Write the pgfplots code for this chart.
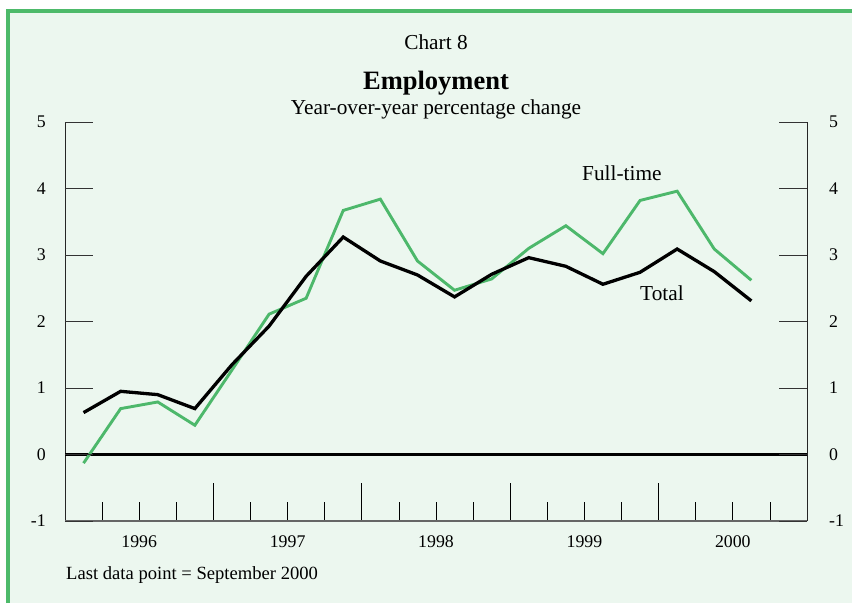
\documentclass[border=0pt]{standalone}
\usepackage{pgfplots}
\pgfplotsset{compat=1.18}
\usepackage{fontspec}
\setmainfont{Liberation Serif}

\definecolor{bggreen}{HTML}{ECF7EF}
\definecolor{framegreen}{HTML}{4DBA6A}
\definecolor{linegreen}{HTML}{4DB86B}

% quarterly data, x = quarter index (1996Q1 = 0.5)
\pgfplotstableread{
q    total  full
0.5  0.63  -0.13
1.5  0.95   0.69
2.5  0.90   0.79
3.5  0.69   0.44
4.5  1.35   1.27
5.5  1.93   2.11
6.5  2.68   2.35
7.5  3.27   3.67
8.5  2.91   3.84
9.5  2.70   2.91
10.5 2.37   2.47
11.5 2.71   2.64
12.5 2.96   3.10
13.5 2.83   3.44
14.5 2.56   3.02
15.5 2.74   3.82
16.5 3.09   3.96
17.5 2.75   3.09
18.5 2.31   2.62
}\emp

\begin{document}
\begin{tikzpicture}[x=1pt,y=1pt]
  \useasboundingbox (0,0) rectangle (852,603);
  \fill[white] (0,0) rectangle (852,603);
  \fill[bggreen] (6,0) rectangle (852,594);
  \draw[framegreen, line width=4pt] (8,0) -- (8,592) -- (852,592);

  \node[anchor=base, font=\fontsize{21.3}{24}\selectfont] at (436,553) {Chart 8};
  \node[anchor=base, font=\fontsize{26.5}{30}\selectfont\bfseries] at (436,513) {Employment};
  \node[anchor=base, font=\fontsize{21.3}{24}\selectfont] at (436,488) {Year-over-year percentage change};
  \node[anchor=base west, inner sep=0pt, font=\fontsize{18.6}{21}\selectfont] at (66,24) {Last data point = September 2000};

  % main axis: data and x ticks
  \begin{axis}[
      at={(65pt,82pt)}, anchor=south west,
      scale only axis, width=742pt, height=399pt,
      xmin=0, xmax=20, ymin=-1, ymax=5,
      axis line style={draw=none},
      tick align=inside,
      xtick={0,4,8,12,16,20},
      x tick label as interval,
      xticklabels={1996,1997,1998,1999,2000},
      minor xtick={1,2,3,5,6,7,9,10,11,13,14,15,17,18,19},
      xtick pos=bottom,
      major tick length=38pt, minor tick length=19pt,
      tick style={black, line width=0.8pt},
      ytick=\empty,
      xticklabel style={anchor=base, inner sep=0pt, yshift=-26pt,
        font=\fontsize{17.8}{20}\selectfont},
      clip=false,
    ]
    \draw[black!85, line width=1pt] (rel axis cs:0,0) -- (rel axis cs:0,1);
    \draw[black!85, line width=1pt] (rel axis cs:1,0) -- (rel axis cs:1,1);
    \draw[black!60, line width=1.5pt] (rel axis cs:0,0) -- (rel axis cs:1,0);
    \draw[black, line width=2.2pt] (axis cs:0,0) -- (axis cs:20,0);
    \addplot[linegreen, line width=2.9pt, line join=miter] table[x=q, y=full] {\emp};
    \addplot[black, line width=3.3pt, line join=miter] table[x=q, y=total] {\emp};
    \node[font=\fontsize{21.3}{24}\selectfont] at (axis cs:15.01,4.23) {Full-time};
    \node[font=\fontsize{21.3}{24}\selectfont] at (axis cs:16.09,2.42) {Total};
  \end{axis}

  % left y ticks and labels
  \begin{axis}[
      at={(65pt,82pt)}, anchor=south west,
      scale only axis, width=742pt, height=399pt,
      xmin=0, xmax=20, ymin=-1, ymax=5,
      axis line style={draw=none},
      tick align=inside, major tick length=28pt,
      tick style={black!80, line width=0.8pt},
      xtick=\empty,
      ytick={-1,0,1,2,3,4,5},
      yticklabels={-1,0,1,2,3,4,5},
      ytick pos=left,
      yticklabel style={anchor=east, inner sep=0pt, xshift=-19pt,
        font=\fontsize{17.8}{20}\selectfont},
    ]
  \end{axis}

  % right y ticks and labels
  \begin{axis}[
      at={(65pt,82pt)}, anchor=south west,
      scale only axis, width=742pt, height=399pt,
      xmin=0, xmax=20, ymin=-1, ymax=5,
      axis line style={draw=none},
      tick align=inside, major tick length=28pt,
      tick style={black!80, line width=0.8pt},
      xtick=\empty,
      ytick={-1,0,1,2,3,4,5},
      yticklabels={-1,0,1,2,3,4,5},
      ytick pos=right, yticklabel pos=right,
      yticklabel style={anchor=west, inner sep=0pt, xshift=22pt,
        font=\fontsize{17.8}{20}\selectfont},
    ]
  \end{axis}
\end{tikzpicture}
\end{document}
